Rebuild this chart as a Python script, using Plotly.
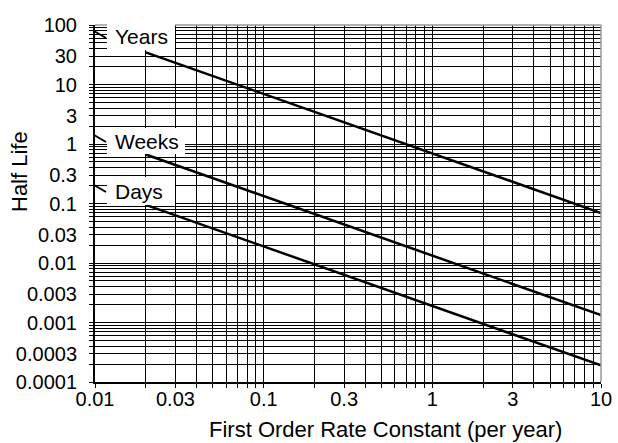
import plotly.graph_objects as go

# ---- data ----
rate_constant = [0.02, 10]          # per year (line start / end)
half_life_years = [34.7, 0.0693]
half_life_weeks = [0.666, 0.00133]
half_life_days = [0.095, 0.00019]

x_tick_values = [0.01, 0.03, 0.1, 0.3, 1, 3, 10]
x_tick_labels = ["0.01", "0.03", "0.1", "0.3", "1", "3", "10"]
y_tick_values = [100, 30, 10, 3, 1, 0.3, 0.1, 0.03, 0.01, 0.003, 0.001, 0.0003, 0.0001]
y_tick_labels = ["100", "30", "10", "3", "1", "0.3", "0.1", "0.03", "0.01",
                 "0.003", "0.001", "0.0003", "0.0001"]

series_names = ["Years", "Weeks", "Days"]

# ---- layout geometry (pixels) ----
W, H = 618, 443
L, R, T, B = 95, 17, 25, 61
PW, PH = W - L - R, H - T - B


def px(x):
    return (x - L) / PW


def py(y):
    return (H - B - y) / PH


def grid_vals(lo_exp, hi_exp):
    vals = []
    for e in range(lo_exp, hi_exp):
        for m in range(1, 10):
            vals.append(round(m * 10 ** e, 10))
    vals.append(round(10 ** hi_exp, 10))
    return vals


def labels_for(vals, tv, tl):
    out = []
    for v in vals:
        lab = ""
        for t, s in zip(tv, tl):
            if abs(v - t) / t < 1e-6:
                lab = s
        out.append(lab)
    return out


xg = grid_vals(-2, 1)
yg = grid_vals(-4, 2)

FONT = "Liberation Sans, Arial, Helvetica, sans-serif"

fig = go.Figure()
for yvals in (half_life_years, half_life_weeks, half_life_days):
    fig.add_trace(go.Scatter(x=rate_constant, y=yvals, mode="lines",
                             line=dict(color="black", width=2.5),
                             showlegend=False, hoverinfo="skip"))

axis_common = dict(
    type="log", showgrid=True, gridcolor="black", gridwidth=1,
    ticks="outside", ticklen=4, tickcolor="black", tickwidth=1,
    showline=True, linecolor="black", linewidth=2, zeroline=False,
    automargin=False,
    tickfont=dict(family=FONT, size=20, color="black"),
)

fig.update_xaxes(range=[-2, 1], tickmode="array", tickvals=xg,
                 ticktext=labels_for(xg, x_tick_values, x_tick_labels),
                 ticklabelstandoff=-6, **axis_common)
fig.update_yaxes(range=[-4, 2], tickmode="array", tickvals=yg,
                 ticktext=labels_for(yg, y_tick_values, y_tick_labels),
                 ticklabelstandoff=8, **axis_common)

shapes = []
# grey frame on top / right
shapes.append(dict(type="line", xref="paper", yref="paper", x0=0, x1=1, y0=1, y1=1,
                   line=dict(color="#999999", width=1.5), layer="above"))
shapes.append(dict(type="line", xref="paper", yref="paper", x0=1, x1=1, y0=0, y1=1,
                   line=dict(color="#999999", width=1.5), layer="above"))

# label boxes and leader ticks
boxes = [  # (x0, x1, y0, y1, slash)
    (107, 175, 23, 50, (94, 31, 106, 38)),
    (107, 185, 128, 154, (94, 135, 106, 142)),
    (107, 175, 177, 205, (94, 185, 106, 192)),
]
annotations = []
for name, (x0, x1, y0, y1, sl) in zip(series_names, boxes):
    shapes.append(dict(type="rect", xref="paper", yref="paper",
                       x0=px(x0), x1=px(x1), y0=py(y1), y1=py(y0),
                       fillcolor="white", line=dict(width=0), layer="above"))
    shapes.append(dict(type="line", xref="paper", yref="paper",
                       x0=px(sl[0]), y0=py(sl[1]), x1=px(sl[2]), y1=py(sl[3]),
                       line=dict(color="black", width=2), layer="above"))
    annotations.append(dict(text=name, xref="paper", yref="paper",
                            x=px(113), y=py((y0 + y1) / 2), xanchor="left",
                            yanchor="middle", showarrow=False,
                            font=dict(family=FONT, size=21, color="black")))

annotations.append(dict(text="First Order Rate Constant (per year)", xref="paper",
                        yref="paper", x=px(385), y=py(429), xanchor="center",
                        yanchor="middle", showarrow=False,
                        font=dict(family=FONT, size=22, color="black")))
annotations.append(dict(text="Half Life", xref="paper", yref="paper",
                        x=px(19), y=py(172), xanchor="center", yanchor="middle",
                        textangle=-90, showarrow=False,
                        font=dict(family=FONT, size=22, color="black")))

fig.update_layout(
    width=W, height=H, margin=dict(l=L, r=R, t=T, b=B, pad=0, autoexpand=False),
    paper_bgcolor="white", plot_bgcolor="white",
    shapes=shapes, annotations=annotations, showlegend=False,
)

fig.write_html("out.html", config={"displayModeBar": False},
               post_script="document.body.style.margin='0px';"
                           "document.body.style.overflow='hidden';")
